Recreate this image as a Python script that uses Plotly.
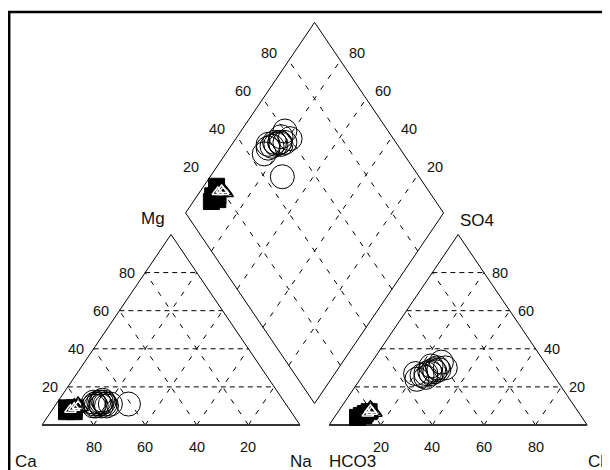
import numpy as np
import plotly.graph_objects as go

# ---------------- data (percent of meq) ----------------
# group A: open circles
circ_ca   = [72, 72, 72, 74, 71, 70, 74, 70, 74, 70, 70, 68, 75, 61]
circ_mg   = [11, 12, 10, 11, 12, 11, 10, 12, 12, 10, 13, 11, 10, 11]
circ_na   = [17, 16, 18, 15, 17, 19, 16, 18, 14, 20, 17, 21, 15, 28]
circ_hco3 = [47, 49, 45, 51, 43, 45, 47, 45, 50, 43, 40, 40, 54, 53]
circ_so4  = [28, 27, 29, 26, 30, 28, 27, 31, 25, 29, 33, 30, 24, 27]
circ_cl   = [25, 24, 26, 23, 27, 27, 26, 24, 25, 28, 27, 30, 22, 20]

# group B: filled squares
sq_ca   = [87, 83, 85, 86, 84]
sq_mg   = [7, 9, 8, 9, 7]
sq_na   = [6, 8, 7, 5, 9]
sq_hco3 = [85, 83, 87, 81, 84]
sq_so4  = [5, 6, 4, 7, 5]
sq_cl   = [10, 11, 9, 12, 11]

# group C: triangles
tri_ca   = [83, 81, 85]
tri_mg   = [9, 10, 8]
tri_na   = [8, 9, 7]
tri_hco3 = [80, 80, 82]
tri_so4  = [8, 7, 6]
tri_cl   = [12, 13, 12]

grid_levels = [20, 40, 60, 80]
cation_labels = ["Ca", "Mg", "Na"]
anion_labels = ["HCO3", "SO4", "Cl"]

# ---------------- geometry ----------------
OFF = 8  # browser body margin
G = 0.113
H = np.sqrt(3) / 2
SX, SY = 258.0, 220.0
X0, Y0 = 42.0 - OFF, 425.0 - OFF
W, HT = 610 - OFF, 470 - OFF
OX = 1 + G


def cat_xy(ca, mg, na):
    ca, mg, na = map(np.asarray, (ca, mg, na))
    t = ca + mg + na
    return na / t + 0.5 * mg / t, H * mg / t


def an_xy(hco3, so4, cl):
    hco3, so4, cl = map(np.asarray, (hco3, so4, cl))
    t = hco3 + so4 + cl
    return OX + cl / t + 0.5 * so4 / t, H * so4 / t


def dia_xy(ca, mg, na, hco3, so4, cl):
    ca, mg, na, hco3, so4, cl = map(np.asarray, (ca, mg, na, hco3, so4, cl))
    p = (ca + mg) / (ca + mg + na)
    q = (so4 + cl) / (hco3 + so4 + cl)
    return 1 + G / 2 + 0.5 * (q - p), H * G + H * (p + q)


fig = go.Figure()


def add_lines(segs, width=1, color="black", dash="solid"):
    xs, ys = [], []
    for (a, b) in segs:
        xs += [a[0], b[0], None]
        ys += [a[1], b[1], None]
    fig.add_trace(go.Scatter(x=xs, y=ys, mode="lines",
                             line=dict(color=color, width=width, dash=dash),
                             hoverinfo="skip", showlegend=False))


# grids
hseg, dseg, diaseg = [], [], []
for lv in grid_levels:
    f = lv / 100
    # left triangle
    hseg.append(((0.5 * f, H * f), (1 - 0.5 * f, H * f)))
    dseg.append(((1 - f, 0), (0.5 * (1 - f), H * (1 - f))))
    dseg.append(((f, 0), (f + 0.5 * (1 - f), H * (1 - f))))
    # right triangle
    hseg.append(((OX + 0.5 * f, H * f), (OX + 1 - 0.5 * f, H * f)))
    dseg.append(((OX + 1 - f, 0), (OX + 0.5 * (1 - f), H * (1 - f))))
    dseg.append(((OX + f, 0), (OX + f + 0.5 * (1 - f), H * (1 - f))))

L = np.array([0.5 + G / 2, H * (1 + G)])
B = np.array([1 + G / 2, H * G])
R = np.array([1.5 + G / 2, H * (1 + G)])
T = np.array([1 + G / 2, H * (2 + G)])
for lv in grid_levels:
    f = lv / 100
    diaseg.append((B + f * (L - B), R + f * (T - R)))
    diaseg.append((B + f * (R - B), L + f * (T - L)))

add_lines(hseg, dash="5px,4px")
add_lines(dseg, dash="5px,8px")
add_lines(diaseg, dash="5px,8px")

# outlines
add_lines([((0, 0), (0.5, H)), ((0.5, H), (1, 0)),
           ((OX, 0), (OX + 0.5, H)), ((OX + 0.5, H), (OX + 1, 0)),
           (B, L), (L, T), (T, R), (R, B)], width=1)
add_lines([((0, 0), (1, 0)), ((OX, 0), (OX + 1, 0))], width=2.2, color="#333333")

# data markers


def add_group(ca, mg, na, hco3, so4, cl, marker):
    cx, cy = cat_xy(ca, mg, na)
    ax, ay = an_xy(hco3, so4, cl)
    dx, dy = dia_xy(ca, mg, na, hco3, so4, cl)
    fig.add_trace(go.Scatter(x=np.concatenate([cx, ax, dx]),
                             y=np.concatenate([cy, ay, dy]),
                             mode="markers", marker=marker,
                             hoverinfo="skip", showlegend=False))


add_group(sq_ca, sq_mg, sq_na, sq_hco3, sq_so4, sq_cl,
          dict(symbol="square", size=16, color="black",
               line=dict(color="black", width=1)))
add_group(tri_ca, tri_mg, tri_na, tri_hco3, tri_so4, tri_cl,
          dict(symbol="triangle-up-open", size=18, color="black",
               line=dict(color="black", width=1.5)))
add_group(tri_ca, tri_mg, tri_na, tri_hco3, tri_so4, tri_cl,
          dict(symbol="triangle-up-open", size=10, color="white",
               line=dict(color="white", width=1.5)))
add_group(circ_ca, circ_mg, circ_na, circ_hco3, circ_so4, circ_cl,
          dict(symbol="circle-open", size=24, color="black",
               line=dict(color="black", width=1)))

# labels
ann = []
TF = dict(family="Liberation Sans, Arial, sans-serif", size=14.5, color="#111111")
CF = dict(family="Liberation Sans, Arial, sans-serif", size=17, color="#111111")


def lab(x, y, text, font, xs=0, ys=0, xa="center"):
    ann.append(dict(x=x, y=y, xref="x", yref="y", text=text, showarrow=False,
                    font=font, xshift=xs, yshift=ys, xanchor=xa, yanchor="middle"))


for lv in grid_levels:
    f = lv / 100
    lab(1 - f, 0, str(lv), TF, ys=-22)
    lab(0.5 * f, H * f, str(lv), TF, xs=-18)
    lab(OX + f, 0, str(lv), TF, ys=-22)
    lab(OX + 1 - 0.5 * f, H * f, str(lv), TF, xs=16)
    pl = L + f * (T - L)
    lab(pl[0], pl[1], str(lv), TF, xs=-20, ys=8)
    pr = R + f * (T - R)
    lab(pr[0], pr[1], str(lv), TF, xs=17, ys=8)

lab(0, 0, cation_labels[0], CF, xs=-16, ys=-36)
lab(0.5, H, cation_labels[1], CF, xs=-18, ys=16)
lab(1, 0, cation_labels[2], CF, xs=1, ys=-36)
lab(OX, 0, anion_labels[0], CF, xs=-2, ys=-36, xa="left")
lab(OX + 0.5, H, anion_labels[1], CF, xs=19, ys=14)
lab(OX + 1, 0, anion_labels[2], CF, xs=9, ys=-36)

fig.update_layout(
    width=W, height=HT, autosize=False,
    margin=dict(l=0, r=0, t=0, b=0, pad=0),
    paper_bgcolor="white", plot_bgcolor="white",
    xaxis=dict(range=[(0 - X0) / SX, (W - X0) / SX], visible=False, fixedrange=True),
    yaxis=dict(range=[(Y0 - HT) / SY, Y0 / SY], visible=False, fixedrange=True),
    annotations=ann,
    shapes=[
        dict(type="line", xref="paper", yref="paper", x0=(7 - OFF) / W, x1=1,
             y0=1 - (12 - OFF) / HT, y1=1 - (12 - OFF) / HT,
             line=dict(color="black", width=2.5)),
        dict(type="line", xref="paper", yref="paper", x0=(8 - OFF) / W + 0.002,
             x1=(8 - OFF) / W + 0.002,
             y0=0, y1=1 - (11 - OFF) / HT, line=dict(color="black", width=2.5)),
    ],
)

fig.write_html(
    "out.html",
    config={"displayModeBar": False},
    post_script="document.documentElement.style.overflow='hidden';"
                "document.body.style.overflow='hidden';",
)
